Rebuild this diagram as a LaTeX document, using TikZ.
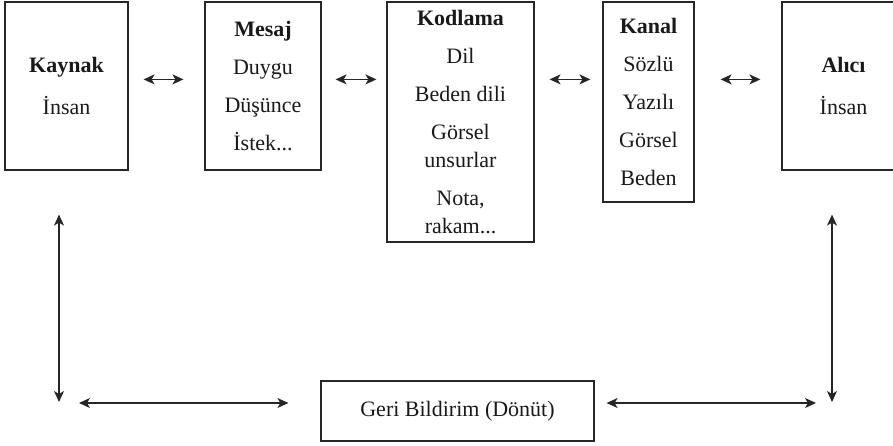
\documentclass[tikz,border=0pt]{standalone}
\usepackage{fontspec}
\setmainfont{Liberation Serif}
\usetikzlibrary{arrows.meta}
\tikzset{
  box/.style={draw=black!85, line width=0.6pt, align=center, inner sep=0pt,
    text=black!90, font=\fontsize{11}{14}\selectfont},
  biarrow/.style={{Stealth[length=5.5pt,width=5pt,inset=1.5pt]}-{Stealth[length=5.5pt,width=5pt,inset=1.5pt]},
    line width=0.6pt, draw=black!85}
}
\begin{document}
\begin{tikzpicture}[x=0.5pt,y=0.5pt]
\useasboundingbox (0,0) rectangle (893,445);

\node[box, minimum width=61.5pt, minimum height=84pt] (kaynak) at (66.5,359) {\textbf{Kaynak}\\[7pt]İnsan};
\node[box, minimum width=58pt, minimum height=84pt] (mesaj) at (263,359) {\textbf{Mesaj}\\[5pt]Duygu\\[5pt]Düşünce\\[5pt]İstek...};
\node[box, minimum width=73.5pt, minimum height=120pt] (kodlama) at (460.5,323) {\textbf{Kodlama}\\[5pt]Dil\\[5pt]Beden dili\\[5pt]Görsel\\unsurlar\\[5pt]Nota,\\rakam...};
\node[box, minimum width=45.5pt, minimum height=100pt] (kanal) at (648.5,343) {\textbf{Kanal}\\[5pt]Sözlü\\[5pt]Yazılı\\[5pt]Görsel\\[5pt]Beden};
\node[box, minimum width=61.5pt, minimum height=84pt] (alici) at (843.5,359) {\textbf{Alıcı}\\[7pt]İnsan};
\node[box, minimum width=136.5pt, minimum height=30pt] (geri) at (457.5,34) {Geri Bildirim (Dönüt)};

\coordinate (kbot) at (59,43);
\coordinate (kleft) at (79,42);
\coordinate (abot) at (832,43);
\coordinate (aright) at (816,42);

\draw[biarrow] ([shift={(15,-78)}]kaynak.north east) -- ([shift={(-21,-78)}]mesaj.north west);
\draw[biarrow] ([shift={(14,-78)}]mesaj.north east) -- ([shift={(-10,-78)}]kodlama.north west);
\draw[biarrow] ([shift={(15,-78)}]kodlama.north east) -- ([shift={(-12,-78)}]kanal.north west);
\draw[biarrow] ([shift={(26,-78)}]kanal.north east) -- ([shift={(-21,-78)}]alici.north west);

\draw[biarrow] ([shift={(-7.5,-44)}]kaynak.south) -- (kbot);
\draw[biarrow] (kleft) -- ([shift={(-32,8)}]geri.west);
\draw[biarrow] ([shift={(-11.5,-44)}]alici.south) -- (abot);
\draw[biarrow] ([shift={(12,8)}]geri.east) -- (aright);
\end{tikzpicture}
\end{document}
